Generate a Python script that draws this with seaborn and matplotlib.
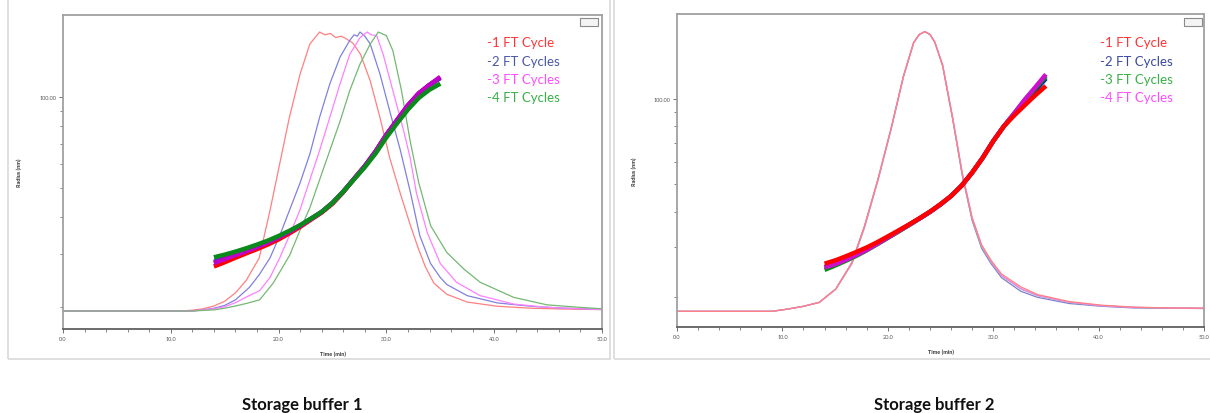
import matplotlib
matplotlib.use("Agg")
import matplotlib.pyplot as plt
import seaborn as sns
import pandas as pd
from matplotlib.patches import Rectangle
from matplotlib.ticker import FixedLocator, FixedFormatter, NullFormatter, MultipleLocator

sns.set_theme(style="white")
plt.rcParams['font.family'] = ['Lato', 'DejaVu Sans']

# ---------------- data: Storage buffer 1 ----------------
series_left = ["-1 FT Cycle", "-2 FT Cycles", "-3 FT Cycles", "-4 FT Cycles"]

# chromatogram (relative signal) traces
L1_t = [0, 11, 12, 13, 14, 15, 16, 17, 18.2, 19.2, 20.1, 21.0, 22.0, 22.9, 23.8, 24.3, 24.8, 25.3, 25.8, 26.3, 26.9, 27.6, 28.5, 29.4, 30.3, 31.3, 32.2, 33.0, 33.6, 34.4, 35.6, 37.5, 40.3, 43.4, 46.5, 50]
L1_v = [0, 0, 0.003, 0.008, 0.018, 0.035, 0.065, 0.11, 0.19, 0.36, 0.527, 0.694, 0.85, 0.957, 1.0, 0.99, 0.995, 0.98, 0.985, 0.975, 0.96, 0.92, 0.825, 0.694, 0.55, 0.42, 0.31, 0.22, 0.16, 0.10, 0.06, 0.032, 0.017, 0.01, 0.007, 0.005]

L2_t = [0, 12, 13, 14, 15, 16, 17.3, 18.2, 19.2, 20.1, 21.0, 22.0, 22.9, 23.8, 24.75, 25.7, 26.6, 27.0, 27.3, 27.55, 28.0, 28.5, 29.4, 30.3, 31.3, 32.2, 33.1, 34.1, 35.0, 35.6, 37.5, 40.3, 43.4, 46.5, 50]
L2_v = [0, 0, 0.004, 0.01, 0.02, 0.04, 0.085, 0.13, 0.19, 0.27, 0.36, 0.46, 0.563, 0.694, 0.814, 0.91, 0.97, 0.99, 0.985, 1.0, 0.985, 0.957, 0.85, 0.718, 0.575, 0.43, 0.27, 0.17, 0.12, 0.095, 0.055, 0.029, 0.017, 0.01, 0.006]

L3_t = [0, 12, 14, 15, 16, 17, 18.24, 19.2, 20.1, 21.0, 21.96, 22.9, 23.8, 24.75, 25.7, 26.6, 27.55, 28.2, 28.6, 29.1, 29.7, 30.6, 31.6, 32.2, 32.8, 33.8, 35.0, 36.5, 38.7, 41.8, 44.9, 50]
L3_v = [0, 0, 0.008, 0.015, 0.03, 0.05, 0.073, 0.12, 0.19, 0.27, 0.36, 0.47, 0.575, 0.694, 0.814, 0.92, 0.98, 1.0, 0.99, 0.987, 0.92, 0.79, 0.646, 0.55, 0.42, 0.28, 0.17, 0.103, 0.055, 0.025, 0.013, 0.005]

L4_t = [0, 12, 14, 15, 16, 17, 18.24, 19.5, 21.03, 22.1, 22.9, 23.8, 24.75, 25.7, 26.6, 27.55, 28.5, 29.25, 30.0, 30.6, 31.4, 32.2, 33.0, 34.1, 35.6, 37.2, 38.7, 41.8, 44.9, 48.0, 50]
L4_v = [0, 0, 0.004, 0.01, 0.018, 0.027, 0.04, 0.1, 0.2, 0.3, 0.37, 0.47, 0.575, 0.68, 0.79, 0.885, 0.957, 1.0, 0.987, 0.933, 0.79, 0.61, 0.46, 0.306, 0.21, 0.15, 0.103, 0.049, 0.022, 0.013, 0.008]

# radius (nm) traces
R_t = [14, 15, 16, 17, 18, 19, 20, 21, 22, 23, 24, 25, 26, 27, 28, 29, 30, 31, 32, 33, 34, 35]
LR1 = [27.3, 28.2, 29.2, 30.2, 31.2, 32.3, 33.6, 35.2, 37.0, 39.1, 41.3, 44.2, 48.3, 53.5, 59, 66, 75, 84, 94, 103, 110, 116]
LR2 = [28.3, 29.1, 29.9, 30.8, 31.8, 32.9, 34.2, 35.7, 37.4, 39.4, 41.5, 44.5, 48.5, 53.5, 59, 66, 75, 84, 94, 103, 110, 116]
LR3 = [28.0, 28.9, 29.8, 30.7, 31.7, 32.8, 34.1, 35.6, 37.3, 39.3, 41.5, 44.5, 48.5, 53.5, 59, 66, 75, 84, 94, 103, 110, 117]
LR4 = [29.3, 29.9, 30.6, 31.4, 32.3, 33.3, 34.5, 35.9, 37.5, 39.4, 41.5, 44.5, 48.5, 53.3, 58.5, 65, 73.5, 82, 91, 99.5, 106, 111]

# ---------------- data: Storage buffer 2 ----------------
series_right = ["-1 FT Cycle", "-2 FT Cycles", "-3 FT Cycles", "-4 FT Cycles"]

C_t = [0, 9, 10.5, 12, 13.5, 15.07, 16.6, 17.8, 19.07, 20.3, 21.5, 22.46, 23.0, 23.5, 24.0, 24.46, 25.2, 26.15, 27.07, 28.0, 28.9, 29.8, 30.8, 32.6, 34.2, 37.2, 40.3, 43.4, 47, 50]
C1_v = [0, 0, 0.008, 0.018, 0.032, 0.08, 0.175, 0.306, 0.473, 0.652, 0.843, 0.962, 0.99, 1.0, 0.99, 0.962, 0.878, 0.688, 0.485, 0.325, 0.225, 0.17, 0.12, 0.072, 0.05, 0.028, 0.018, 0.012, 0.011, 0.010]
C2_v = [0, 0, 0.008, 0.018, 0.032, 0.08, 0.17, 0.300, 0.468, 0.648, 0.840, 0.960, 0.99, 1.0, 0.99, 0.962, 0.880, 0.692, 0.490, 0.330, 0.230, 0.175, 0.127, 0.080, 0.056, 0.032, 0.020, 0.014, 0.012, 0.011]
C3_v = [0, 0, 0.008, 0.018, 0.032, 0.08, 0.172, 0.303, 0.470, 0.650, 0.842, 0.961, 0.99, 1.0, 0.99, 0.963, 0.882, 0.695, 0.495, 0.335, 0.235, 0.178, 0.128, 0.082, 0.057, 0.033, 0.020, 0.014, 0.012, 0.011]
C4_v = [0, 0, 0.008, 0.018, 0.032, 0.08, 0.175, 0.306, 0.473, 0.652, 0.843, 0.962, 0.99, 1.0, 0.99, 0.962, 0.880, 0.690, 0.490, 0.335, 0.238, 0.182, 0.133, 0.088, 0.060, 0.035, 0.022, 0.015, 0.012, 0.011]

RR1 = [26.3, 27.0, 27.9, 28.9, 30.0, 31.3, 32.8, 34.4, 36.1, 38.0, 40.1, 42.6, 45.5, 49.5, 55, 62, 71, 80, 87.5, 95, 103, 111]
RR2 = [25.6, 26.3, 27.2, 28.3, 29.5, 30.9, 32.5, 34.2, 36.0, 37.9, 40.0, 42.5, 45.5, 49.5, 55, 62, 71, 80, 88.5, 98, 107, 118]
RR3 = [25.0, 25.9, 26.9, 28.0, 29.3, 30.8, 32.4, 34.1, 35.9, 37.9, 40.0, 42.5, 45.5, 49.5, 55, 62, 71, 80, 89, 99, 109, 120]
RR4 = [25.5, 26.2, 27.1, 28.2, 29.4, 30.9, 32.5, 34.2, 36.0, 37.9, 40.0, 42.5, 45.5, 49.5, 55, 62, 71, 80, 89, 99.5, 110, 122]

x_ticks = [0, 10, 20, 30, 40, 50]
x_tick_labels = ["0.0", "10.0", "20.0", "30.0", "40.0", "50.0"]
y_major = [100]
y_major_labels = ["100.00"]
y_minor = [20, 30, 40, 50, 60, 70, 80, 90]
titles = ["Storage buffer 1", "Storage buffer 2"]

# ---------------- styling ----------------
W, H = 1210, 414
fig = plt.figure(figsize=(W / 100, H / 100), dpi=100)
fig.patch.set_facecolor("white")

def fx(px):
    return px / W

def fy(py):
    return 1 - py / H

# screenshot frames
for (x0, x1) in [(8, 610), (614, 1216)]:
    fig.add_artist(Rectangle((fx(x0), fy(360)), fx(x1 - x0), 360 / H + 0.01,
                             transform=fig.transFigure, fill=False,
                             edgecolor="#d9d9d9", lw=1.2))

def make_panel(rect, ylim_log, ylim_sig, chrom, rad, chrom_cols, rad_cols,
               legend_names, legend_cols, legend_x, icon_x):
    ax = fig.add_axes(rect)
    ax2 = ax.twinx()
    # chromatograms (behind)
    for (t, v), c in zip(chrom, chrom_cols):
        sns.lineplot(x=t, y=v, ax=ax2, color=c, lw=0.9, sort=False,
                     estimator=None, legend=False)
    ax2.set_ylim(*ylim_sig)
    ax2.set_yticks([])
    ax2.set_ylabel("")
    for s in ax2.spines.values():
        s.set_visible(False)
    # radius curves (front)
    ax.set_zorder(ax2.get_zorder() + 1)
    ax.patch.set_visible(False)
    for r, c in zip(rad, rad_cols):
        sns.lineplot(x=R_t, y=r, ax=ax, color=c, lw=3.2, sort=False,
                     estimator=None, legend=False, solid_capstyle="butt")
    ax.set_yscale("log")
    ax.set_ylim(*ylim_log)
    ax.set_xlim(0, 50)
    ax.yaxis.set_major_locator(FixedLocator(y_major))
    ax.yaxis.set_major_formatter(FixedFormatter(y_major_labels))
    ax.yaxis.set_minor_locator(FixedLocator(y_minor))
    ax.yaxis.set_minor_formatter(NullFormatter())
    ax.xaxis.set_major_locator(FixedLocator(x_ticks))
    ax.xaxis.set_major_formatter(FixedFormatter(x_tick_labels))
    ax.xaxis.set_minor_locator(MultipleLocator(2))
    ax.tick_params(axis="both", which="both", direction="out", color="#707070",
                   labelsize=4, labelcolor="#555555", pad=2,
                   left=True, bottom=True)
    ax.tick_params(which="major", length=3, width=0.7)
    ax.tick_params(which="minor", length=2, width=0.6)
    for name, s in ax.spines.items():
        s.set_visible(True)
        s.set_color("#a0a0a0")
        s.set_linewidth(1.3)
    ax.spines["bottom"].set_color("#606060")
    ax.set_xlabel("Time (min)", fontsize=4, fontweight="bold", color="#333333")
    ax.set_ylabel("Radius (nm)", fontsize=4, fontweight="bold", color="#333333")
    ax.xaxis.set_label_coords(0.5, -0.07)
    ax.yaxis.set_label_coords(-0.075, 0.5)
    # legend text
    for i, (name, c) in enumerate(zip(legend_names, legend_cols)):
        fig.text(fx(legend_x), fy(43 + 18.5 * i), name, color=c, fontsize=9.5,
                 va="center", ha="left")
    # small zoom box icon
    fig.add_artist(Rectangle((fx(icon_x), fy(27)), fx(18), 8 / H,
                             transform=fig.transFigure, facecolor="#f4f4f4",
                             edgecolor="#8a8a8a", lw=0.8))
    return ax

left_chrom = [(L1_t, L1_v), (L2_t, L2_v), (L3_t, L3_v), (L4_t, L4_v)]
left_chrom_cols = ["#ff8080", "#8080e0", "#ff80ff", "#74b874"]
left_rad_cols = ["#ff0000", "#3a2ad0", "#c000c8", "#0a8a1a"]
left_leg_cols = ["#ff3535", "#4a58a8", "#ff4cff", "#38b048"]

make_panel([fx(63), fy(330), fx(539), 314 / H], (16.9, 188), (-0.0645, 1.061),
           left_chrom, [LR1, LR2, LR3, LR4], left_chrom_cols, left_rad_cols,
           series_left, left_leg_cols, 487, 580)

right_chrom = [(C_t, C1_v), (C_t, C2_v), (C_t, C3_v), (C_t, C4_v)]
right_chrom_cols = ["#8080d0", "#7fbf8f", "#ff80ff", "#ff8080"]
right_rad_cols_draw = ["#0a2a9a", "#0a8a1a", "#cc10cc", "#ff0000"]

make_panel([fx(677), fy(328), fx(527), 313 / H], (15.74, 199), (-0.056, 1.063),
           right_chrom, [RR2, RR3, RR4, RR1], right_chrom_cols, right_rad_cols_draw,
           series_right, ["#ff3535", "#3a4aa0", "#38b048", "#ff4cff"], 1100, 1184)

fig.text(fx(302), fy(405), titles[0], fontsize=12, fontweight="bold",
         ha="center", va="center", color="#111111")
fig.text(fx(934), fy(405), titles[1], fontsize=12, fontweight="bold",
         ha="center", va="center", color="#111111")

fig.savefig("out.png", dpi=100, facecolor="white")
